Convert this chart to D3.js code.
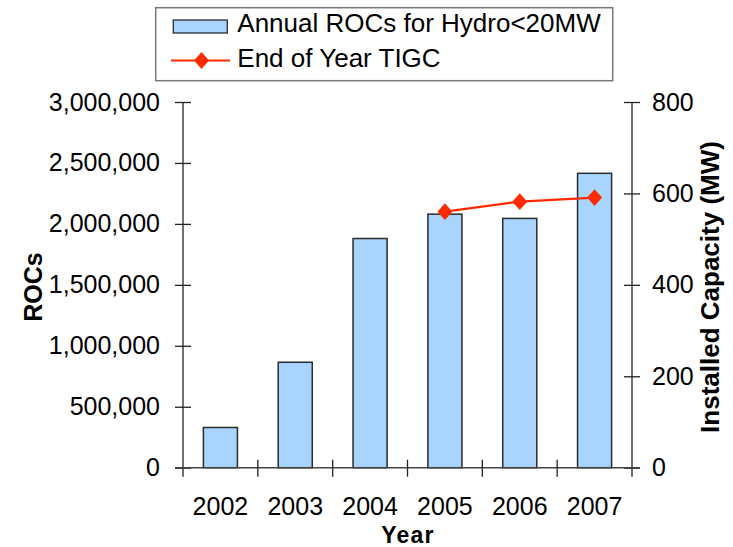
<!DOCTYPE html>
<html>
<head>
<meta charset="utf-8">
<script src="https://cdn.jsdelivr.net/npm/d3@7"></script>
<style>
  body { margin: 0; background: #fff; }
  svg { display: block; }
  text { font-family: "Liberation Sans", Arial, sans-serif; fill: #000; }
</style>
</head>
<body>
<svg id="chart" width="733" height="547"></svg>
<script>
// Annual ROCs issued for hydro < 20MW, with end-of-year installed capacity
const years = ["2002", "2003", "2004", "2005", "2006", "2007"];
const rocs = [330000, 865000, 1880000, 2080000, 2045000, 2415000];
const capacityYears = ["2005", "2006", "2007"];
const capacity = [560, 582, 591];
const rocTicks = [0, 500000, 1000000, 1500000, 2000000, 2500000, 3000000];
const mwTicks = [0, 200, 400, 600, 800];
const legendLabels = ["Annual ROCs for Hydro<20MW", "End of Year TIGC"];

const svg = d3.select("#chart");
const plotLeft = 183, plotRight = 632, plotTop = 102, plotBottom = 467.7;
const fs = 25;
const barFill = "#a9d4fd", barStroke = "#2b2b2b", lineColor = "#ff2a00";

const x = d3.scaleBand().domain(years).range([plotLeft, plotRight])
  .paddingInner(0.545).paddingOuter(0.2725);
const yL = d3.scaleLinear().domain([0, 3000000]).range([plotBottom, plotTop]);
const yR = d3.scaleLinear().domain([0, 800]).range([plotBottom, plotTop]);
const step = x.step();

// bars
svg.append("g").selectAll("rect").data(years).join("rect")
  .attr("x", d => x(d))
  .attr("y", (d, i) => yL(rocs[i]))
  .attr("width", x.bandwidth())
  .attr("height", (d, i) => yL(0) - yL(rocs[i]))
  .attr("fill", barFill)
  .attr("stroke", barStroke)
  .attr("stroke-width", 1.5);

// left axis
const axL = svg.append("g").attr("transform", `translate(${plotLeft},0)`)
  .call(d3.axisLeft(yL).tickValues(rocTicks).tickFormat(d3.format(",")).tickSize(8).tickPadding(15));
axL.select(".domain").remove();
axL.selectAll(".tick line").attr("x1", 8).attr("stroke", "#222").attr("stroke-width", 1.3);
axL.selectAll(".tick text").attr("font-size", fs).attr("font-family", "Liberation Sans, Arial, sans-serif").attr("fill", "#000");
svg.append("line").attr("x1", plotLeft).attr("x2", plotLeft).attr("y1", plotTop).attr("y2", plotBottom + 9)
  .attr("stroke", "#222").attr("stroke-width", 1.3);

// right axis
const axR = svg.append("g").attr("transform", `translate(${plotRight},0)`)
  .call(d3.axisRight(yR).tickValues(mwTicks).tickSize(8).tickPadding(12));
axR.select(".domain").remove();
axR.selectAll(".tick line").attr("x1", -8).attr("stroke", "#222").attr("stroke-width", 1.3);
axR.selectAll(".tick text").attr("font-size", fs).attr("font-family", "Liberation Sans, Arial, sans-serif").attr("fill", "#000");
svg.append("line").attr("x1", plotRight).attr("x2", plotRight).attr("y1", plotTop).attr("y2", plotBottom + 9)
  .attr("stroke", "#222").attr("stroke-width", 1.3);

// bottom axis: category labels plus boundary ticks
const axB = svg.append("g").attr("transform", `translate(0,${plotBottom})`)
  .call(d3.axisBottom(x).tickSize(0).tickPadding(30));
axB.select(".domain").remove();
axB.selectAll(".tick text").attr("font-size", fs).attr("font-family", "Liberation Sans, Arial, sans-serif").attr("fill", "#000");
svg.append("line").attr("x1", plotLeft - 8).attr("x2", plotRight + 8).attr("y1", plotBottom).attr("y2", plotBottom)
  .attr("stroke", "#444").attr("stroke-width", 1.5);
svg.append("g").selectAll("line").data(years.slice(1)).join("line")
  .attr("x1", d => x(d) - step * x.paddingInner() / 2)
  .attr("x2", d => x(d) - step * x.paddingInner() / 2)
  .attr("y1", plotBottom - 8).attr("y2", plotBottom + 9)
  .attr("stroke", "#222").attr("stroke-width", 1.3);

// square-ish diamond marker
const wideDiamond = {
  draw(ctx, size) {
    const w = Math.sqrt(size) / 2, h = w * 1.12;
    ctx.moveTo(0, -h); ctx.lineTo(w, 0); ctx.lineTo(0, h); ctx.lineTo(-w, 0); ctx.closePath();
  }
};
const diamond = d3.symbol().type(wideDiamond).size(225);

// capacity line with diamond markers
const cx = d => x(d) + x.bandwidth() / 2;
svg.append("path")
  .datum(capacityYears)
  .attr("fill", "none").attr("stroke", lineColor).attr("stroke-width", 2.2)
  .attr("d", d3.line().x(d => cx(d)).y((d, i) => yR(capacity[i])));
svg.append("g").selectAll("path").data(capacityYears).join("path")
  .attr("transform", (d, i) => `translate(${cx(d)},${yR(capacity[i])})`)
  .attr("d", diamond).attr("fill", lineColor);

// axis titles
svg.append("text").attr("x", 408).attr("y", 543).attr("text-anchor", "middle")
  .attr("font-size", 23).attr("font-weight", "bold").attr("letter-spacing", 1.2).text("Year");
svg.append("text").attr("transform", "translate(42,287) rotate(-90)").attr("text-anchor", "middle")
  .attr("font-size", 25).attr("font-weight", "bold").text("ROCs");
svg.append("text").attr("transform", "translate(719,287) rotate(-90)").attr("text-anchor", "middle")
  .attr("font-size", 26).attr("font-weight", "bold").text("Installed Capacity (MW)");

// legend
const lg = svg.append("g");
lg.append("rect").attr("x", 155.7).attr("y", 7.7).attr("width", 457).attr("height", 73)
  .attr("fill", "#fff").attr("stroke", "#777").attr("stroke-width", 1.5);
lg.append("rect").attr("x", 173.3).attr("y", 20).attr("width", 54).attr("height", 13)
  .attr("fill", barFill).attr("stroke", barStroke).attr("stroke-width", 1.3);
lg.append("line").attr("x1", 171).attr("x2", 230).attr("y1", 60.5).attr("y2", 60.5)
  .attr("stroke", lineColor).attr("stroke-width", 2.2);
lg.append("path").attr("transform", "translate(201.5,60.5)").attr("d", diamond).attr("fill", lineColor);
lg.selectAll("text.lbl").data(legendLabels).join("text").attr("class", "lbl")
  .attr("x", 237.3).attr("y", (d, i) => 32 + i * 35)
  .attr("font-size", 26).text(d => d);
</script>
</body>
</html>
